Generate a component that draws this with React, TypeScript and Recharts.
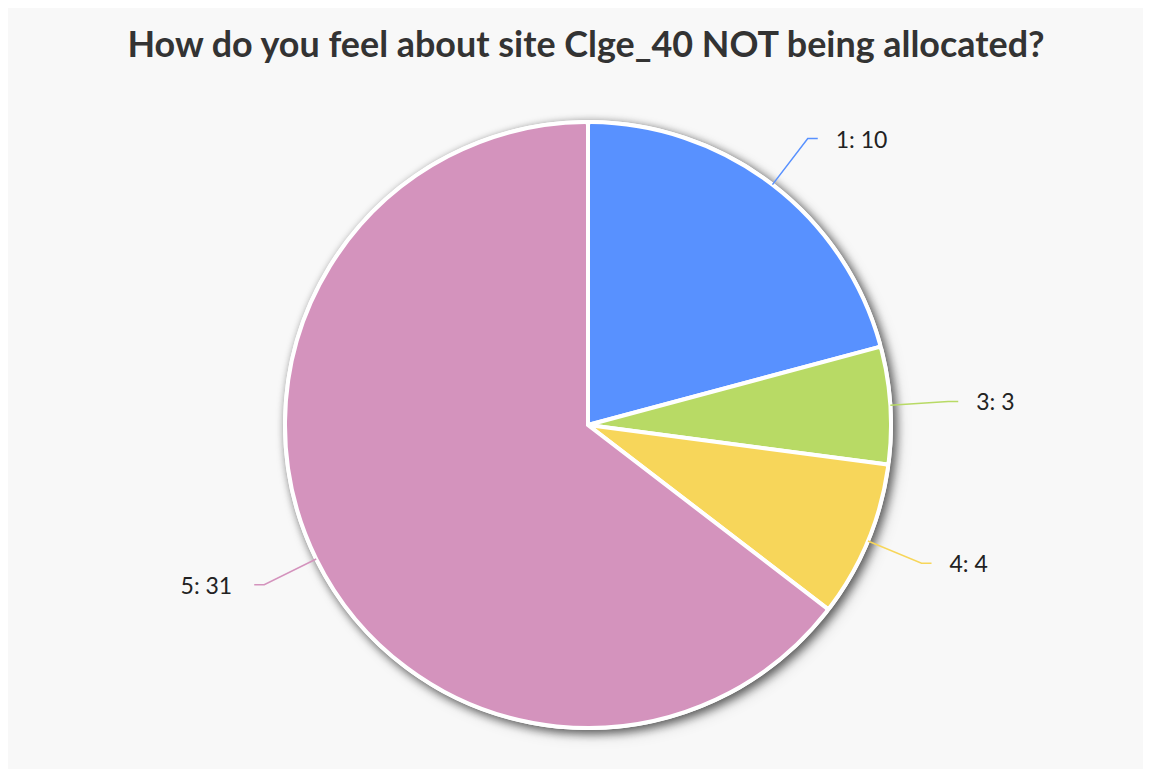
import { PieChart, Pie, Cell } from 'recharts';

const TITLE = 'How do you feel about site Clge_40 NOT being allocated?';
const CATEGORIES = ['1', '3', '4', '5'];
const COUNTS = [10, 3, 4, 31];
const COLORS = ['#5891ff', '#b8da65', '#f7d65a', '#d493bd'];

const data = CATEGORIES.map((name, i) => ({ name, value: COUNTS[i] }));
const shadowData = [{ name: 'all', value: 1 }];

const RADIAN = Math.PI / 180;

const renderLabel = (props: any) => {
  const { cx, cy, midAngle, outerRadius, index, name, value } = props;
  const cos = Math.cos(-midAngle * RADIAN);
  const sin = Math.sin(-midAngle * RADIAN);
  const sx = cx + outerRadius * cos;
  const sy = cy + outerRadius * sin;
  const mx = cx + (outerRadius + 58) * cos;
  const my = cy + (outerRadius + 58) * sin;
  const right = cos >= 0;
  const ex = mx + (right ? 10 : -10);
  const tx = ex + (right ? 18 : -22);
  const color = COLORS[index % COLORS.length];
  return (
    <g>
      <polyline
        points={`${sx},${sy} ${mx},${my} ${ex},${my}`}
        stroke={color}
        strokeWidth={1.5}
        fill="none"
      />
      <text
        x={tx}
        y={my}
        textAnchor={right ? 'start' : 'end'}
        dominantBaseline="central"
        fontSize={23}
        fontFamily="Lato, sans-serif"
        fill="#222"
      >
        {`${name}: ${value}`}
      </text>
    </g>
  );
};

export default function App() {
  return (
    <div style={{ position: 'relative', width: 1136, height: 761, background: '#f8f8f8' }}>
      <style>{`.pie-shadow { filter: drop-shadow(3px 3px 5px rgba(0,0,0,0.4)); }`}</style>
      <div
        style={{
          position: 'absolute',
          left: 20,
          right: 0,
          top: 14,
          textAlign: 'center',
          fontFamily: 'Lato, sans-serif',
          fontWeight: 700,
          fontSize: 35.9,
          color: '#333',
        }}
      >
        {TITLE}
      </div>
      <PieChart width={1136} height={761}>
        <Pie
          data={shadowData}
          dataKey="value"
          cx={575}
          cy={412}
          outerRadius={305}
          fill="#ffffff"
          stroke="none"
          className="pie-shadow"
          isAnimationActive={false}
        />
        <Pie
          data={data}
          dataKey="value"
          nameKey="name"
          cx={575}
          cy={412}
          outerRadius={303}
          startAngle={90}
          endAngle={-270}
          stroke="#ffffff"
          strokeWidth={4}
          cornerRadius={3}
          label={renderLabel}
          labelLine={false}
          isAnimationActive={false}
        >
          {data.map((entry, i) => (
            <Cell key={entry.name} fill={COLORS[i % COLORS.length]} />
          ))}
        </Pie>
      </PieChart>
    </div>
  );
}
